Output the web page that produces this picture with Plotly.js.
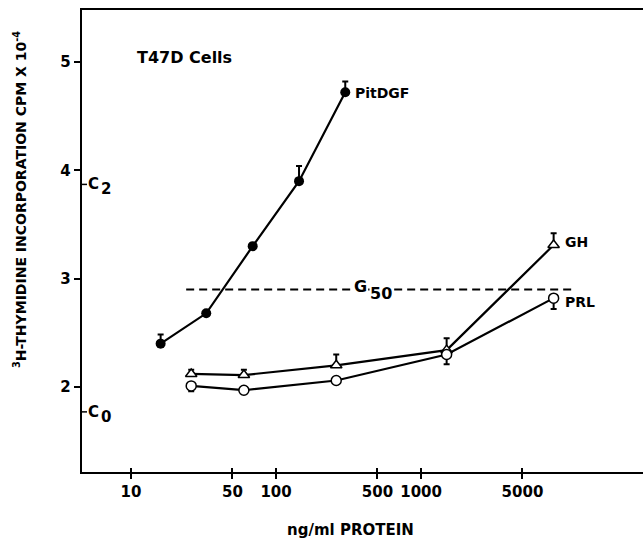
<!DOCTYPE html>
<html>
<head>
<meta charset="utf-8">
<script src="https://cdn.plot.ly/plotly-3.0.1.min.js"></script>
<style>html,body{margin:0;padding:0;background:#fff;}#chart{width:643px;height:539px;}</style>
</head>
<body>
<div id="chart"></div>
<script>
// ---- data ----
const xTickVals = [10, 50, 100, 500, 1000, 5000];
const xTickText = ["10", "50", "100", "500", "1000", "5000"];
const yTickVals = [2, 3, 4, 5];
const yTickText = ["2", "3", "4", "5"];

const pitX = [16, 33, 69, 144, 300];
const pitY = [2.40, 2.68, 3.30, 3.90, 4.72];
const pitErrPlus = [0.085, 0, 0, 0.14, 0.10];

const ghX = [26, 60, 260, 1500, 8200];
const ghY = [2.12, 2.11, 2.20, 2.34, 3.31];
const ghErrPlus = [0.04, 0.05, 0.10, 0.11, 0.11];

const prlX = [26, 60, 260, 1500, 8200];
const prlY = [2.01, 1.97, 2.06, 2.30, 2.82];
const prlErrMinus = [0.05, 0, 0.03, 0.09, 0.10];

const g50X = [24, 11500];
const g50Y = [2.9, 2.9];

const cLevels = [3.87, 1.77];
const cSubs = ["2", "0"];

const F = "DejaVu Sans, Verdana, sans-serif";
const BLK = "#000";
const bold = (s) => ({family: F, size: s, color: BLK, weight: "bold"});

const traces = [
  {x: g50X, y: g50Y, mode: "lines", line: {color: BLK, width: 2, dash: "8px,5px"}, hoverinfo: "skip"},
  {x: pitX, y: pitY, mode: "lines+markers",
   line: {color: BLK, width: 2.2},
   marker: {symbol: "circle", size: 10, color: BLK},
   error_y: {type: "data", symmetric: false, array: pitErrPlus, arrayminus: pitErrPlus.map(() => 0), color: BLK, thickness: 2, width: 3}},
  {x: ghX, y: ghY, mode: "lines+markers",
   line: {color: BLK, width: 2.2},
   marker: {symbol: "triangle-up", size: 10, color: "#fff", line: {color: BLK, width: 1.5}},
   error_y: {type: "data", symmetric: false, array: ghErrPlus, arrayminus: ghErrPlus.map(() => 0), color: BLK, thickness: 2, width: 3}},
  {x: prlX, y: prlY, mode: "lines+markers",
   line: {color: BLK, width: 2.2},
   marker: {symbol: "circle", size: 10, color: "#fff", line: {color: BLK, width: 1.5}},
   error_y: {type: "data", symmetric: false, array: prlErrMinus.map(() => 0), arrayminus: prlErrMinus, color: BLK, thickness: 2, width: 3}},
  // invisible helper trace so the overlay axis (inner tick marks) is drawn
  {x: g50X, y: g50Y, xaxis: "x2", mode: "lines", line: {color: "rgba(0,0,0,0)", width: 0}, hoverinfo: "skip"}
];

const L = 82, T = 10, W = 561, H = 462;
const px2x = p => (p - L) / W;
const px2y = p => (T + H - p) / H;

const annotations = [
  {text: "T47D Cells", x: px2x(135), y: px2y(57), xref: "paper", yref: "paper", xanchor: "left", yanchor: "middle", showarrow: false, font: bold(16)},
  {text: "PitDGF", x: Math.log10(pitX[4]), y: pitY[4], xanchor: "left", yanchor: "middle", xshift: 8, yshift: -1, showarrow: false, font: bold(14)},
  {text: "GH", x: Math.log10(ghX[4]), y: ghY[4], xanchor: "left", yanchor: "middle", xshift: 9, yshift: 3, showarrow: false, font: bold(14)},
  {text: "PRL", x: Math.log10(prlX[4]), y: prlY[4], xanchor: "left", yanchor: "middle", xshift: 9, yshift: -4, showarrow: false, font: bold(14)},
  {text: "G", x: px2x(360), y: g50Y[0], xref: "paper", xanchor: "center", yanchor: "middle", yshift: 3, showarrow: false, bgcolor: "#fff", borderpad: 0, font: bold(16)},
  {text: "50", x: px2x(381), y: g50Y[0], xref: "paper", xanchor: "center", yanchor: "middle", yshift: -4, showarrow: false, bgcolor: "#fff", borderpad: 0, font: bold(16)},
  {text: "<sup>3</sup>H-THYMIDINE INCORPORATION CPM X 10<sup>-4</sup>", x: px2x(20), y: px2y(200), xref: "paper", yref: "paper", xanchor: "center", yanchor: "middle", textangle: -90, showarrow: false, font: bold(14)},
  {text: "ng/ml PROTEIN", x: px2x(350), y: px2y(530), xref: "paper", yref: "paper", xanchor: "center", yanchor: "middle", showarrow: false, font: bold(15)}
];
const shapes = [];
cLevels.forEach((v, i) => {
  annotations.push({text: "C", x: 0, y: v, xref: "paper", xanchor: "left", yanchor: "middle", xshift: 4, showarrow: false, font: bold(15)});
  annotations.push({text: cSubs[i], x: 0, y: v, xref: "paper", xanchor: "left", yanchor: "middle", xshift: 17, yshift: -5, showarrow: false, font: bold(15)});
  shapes.push({type: "line", xref: "paper", yref: "y", x0: 0, x1: 5 / W, y0: v, y1: v, line: {color: BLK, width: 1.5}});
});

const xCommon = {type: "log", range: [0.662, 4.53], tickvals: xTickVals, showgrid: false, zeroline: false};

const layout = {
  width: 643, height: 539,
  margin: {l: L, r: 643 - L - W, t: T, b: 539 - T - H},
  paper_bgcolor: "#fff", plot_bgcolor: "#fff",
  showlegend: false,
  font: {family: F, color: BLK},
  xaxis: Object.assign({}, xCommon, {ticktext: xTickText,
          ticks: "outside", ticklen: 5, tickwidth: 2, tickcolor: BLK,
          showline: true, linewidth: 2.2, linecolor: BLK, mirror: true,
          tickfont: bold(15)}),
  xaxis2: Object.assign({}, xCommon, {overlaying: "x", side: "bottom", anchor: "y",
          ticks: "inside", ticklen: 4, tickwidth: 2, tickcolor: BLK,
          showticklabels: false, showline: false}),
  yaxis: {range: [1.215, 5.48], tickvals: yTickVals, ticktext: yTickText,
          ticks: "outside", ticklen: 6, tickwidth: 2, tickcolor: BLK,
          showline: true, linewidth: 2.2, linecolor: BLK,
          showgrid: false, zeroline: false,
          tickfont: bold(15)},
  annotations: annotations,
  shapes: shapes
};

Plotly.newPlot("chart", traces, layout, {staticPlot: true, displayModeBar: false});
</script>
</body>
</html>
